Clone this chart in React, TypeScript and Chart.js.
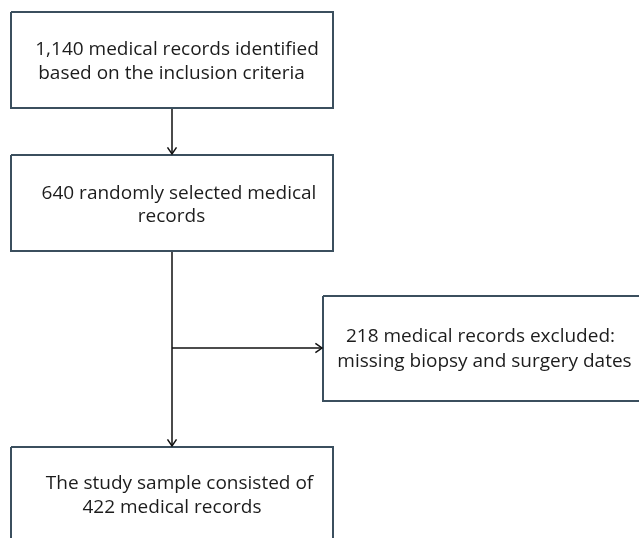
import React, { useEffect, useRef } from "react";
import { Chart, registerables } from "chart.js";

Chart.register(...registerables);

// Flowchart nodes (page coordinates in the 639x538 picture)
const boxLabels: string[][] = [
  ["1,140 medical records identified", "based on the inclusion criteria"],
  ["640 randomly selected medical", "records"],
  ["218 medical records excluded:", "missing biopsy and surgery dates"],
  ["The study sample consisted of", "422 medical records"],
];
const boxLeft = [11, 11, 323, 11];
const boxRight = [333, 333, 642, 333];
const boxTop = [12, 155, 296, 447];
const boxBottom = [108, 251, 401, 560];
// per-line text centre x and baseline y
const lineCenterX: number[][] = [
  [177, 171.5],
  [179, 171.5],
  [480.5, 484.5],
  [179.5, 172],
];
const lineBaseY: number[][] = [
  [54.5, 78.5],
  [199, 222],
  [342, 366.5],
  [489, 513],
];

// Connectors
const connX1 = [172, 172, 172];
const connY1 = [108, 251, 348];
const connX2 = [172, 172, 322];
const connY2 = [154, 446, 348];
const connArrow = [true, true, true];

const BOX_COLOR = "#3b4f5e";
const LINE_COLOR = "#111111";
const TEXT_COLOR = "#1c1c1c";
const FONT = "19px 'Open Sans', 'Noto Sans', sans-serif";

export default function App() {
  const ref = useRef<HTMLCanvasElement | null>(null);

  useEffect(() => {
    document.body.style.margin = "0";
    const canvas = ref.current!;
    const boxDatasets = boxLabels.map((_, i) => ({
      type: "line" as const,
      data: [
        { x: boxLeft[i], y: boxTop[i] },
        { x: boxRight[i], y: boxTop[i] },
        { x: boxRight[i], y: boxBottom[i] },
        { x: boxLeft[i], y: boxBottom[i] },
        { x: boxLeft[i], y: boxTop[i] },
      ],
      borderColor: BOX_COLOR,
      borderWidth: 2,
      pointRadius: 0,
      tension: 0,
      fill: false,
      showLine: true,
      borderJoinStyle: "miter" as const,
    }));
    const connDatasets = connX1.map((_, i) => ({
      type: "line" as const,
      data: [
        { x: connX1[i], y: connY1[i] },
        { x: connX2[i], y: connY2[i] },
      ],
      borderColor: LINE_COLOR,
      borderWidth: 1.5,
      pointRadius: 0,
      fill: false,
      showLine: true,
    }));

    const overlay = {
      id: "flowOverlay",
      afterDatasetsDraw(chart: any) {
        const ctx = chart.ctx;
        const xs = chart.scales.x;
        const ys = chart.scales.y;
        ctx.save();
        // arrowheads
        ctx.strokeStyle = LINE_COLOR;
        ctx.lineWidth = 1.5;
        connX1.forEach((_, i) => {
          if (!connArrow[i]) return;
          const x1 = xs.getPixelForValue(connX1[i]);
          const y1 = ys.getPixelForValue(connY1[i]);
          const x2 = xs.getPixelForValue(connX2[i]);
          const y2 = ys.getPixelForValue(connY2[i]);
          const ang = Math.atan2(y2 - y1, x2 - x1);
          const len = 8;
          const spread = 0.6;
          ctx.beginPath();
          ctx.moveTo(x2 - len * Math.cos(ang - spread), y2 - len * Math.sin(ang - spread));
          ctx.lineTo(x2, y2);
          ctx.lineTo(x2 - len * Math.cos(ang + spread), y2 - len * Math.sin(ang + spread));
          ctx.stroke();
        });
        // text
        ctx.fillStyle = TEXT_COLOR;
        ctx.font = FONT;
        ctx.textBaseline = "alphabetic";
        ctx.textAlign = "center";
        boxLabels.forEach((lines, i) => {
          lines.forEach((t, j) => {
            const cx = xs.getPixelForValue(lineCenterX[i][j]);
            const by = ys.getPixelForValue(lineBaseY[i][j]);
            ctx.fillText(t, cx, by);
          });
        });
        ctx.restore();
      },
    };

    const chart = new Chart(canvas, {
      type: "scatter",
      data: { datasets: [...boxDatasets, ...connDatasets] as any },
      options: {
        animation: false,
        responsive: false,
        maintainAspectRatio: false,
        layout: { padding: 0 },
        plugins: { legend: { display: false }, tooltip: { enabled: false } },
        scales: {
          x: { type: "linear", min: 0, max: 639, display: false },
          y: { type: "linear", min: 0, max: 538, reverse: true, display: false },
        },
      },
      plugins: [overlay],
    });
    return () => chart.destroy();
  }, []);

  return (
    <div style={{ width: 639, height: 538, background: "#ffffff" }}>
      <canvas ref={ref} width={639} height={538} style={{ display: "block" }} />
    </div>
  );
}
